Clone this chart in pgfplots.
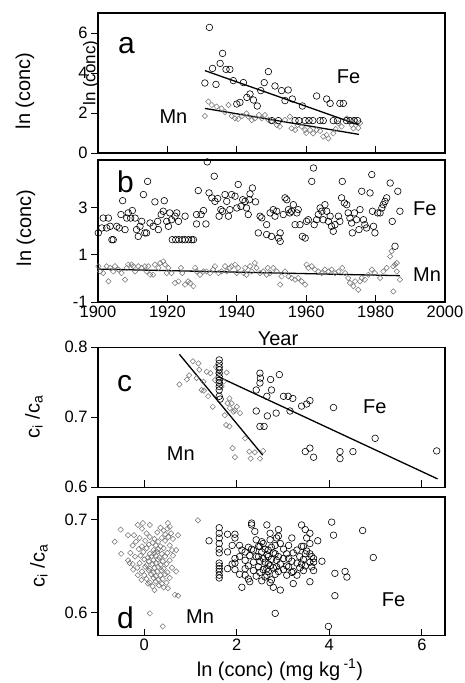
\documentclass[border=0pt]{standalone}
\usepackage{fontspec}
\setmainfont{Liberation Sans}
\usepackage{pgfplots}
\pgfplotsset{compat=1.18}

\pgfplotsset{
  panel/.style={
    scale only axis,
    width=347pt,
    anchor=south west,
    axis line style={line width=1.3pt},
    tick style={line width=1pt, black},
    major tick length=7pt,
    tick align=inside,
    ytick align=outside,
    xtick pos=left, ytick pos=left,
    tick label style={font=\fontsize{16.5}{16.5}\selectfont},
    /pgf/number format/assume math mode=true,
    /pgf/number format/1000 sep={},
    clip=false,
  },
  fe/.style={only marks, mark=o, mark size=3.3pt, black, mark options={line width=0.6pt}},
  mn/.style={only marks, mark=square, mark size=1.9pt, black!55, mark options={rotate=45, line width=0.5pt}},
  fit/.style={no marks, black, line width=1.3pt},
}

\begin{document}
\begin{tikzpicture}
\path[use as bounding box] (0,0) rectangle (465pt,-683pt);

% ---- panel a
\begin{axis}[panel, at={(98pt,-153pt)}, height=140pt,
  xmin=1900, xmax=2000, ymin=0, ymax=7,
  xtick={1920,1940,1960,1980}, xticklabels={}, ytick={0,2,4,6}]
\addplot[mn] coordinates {
(1930.8,1.85) (1931.8,2.57) (1932.8,2.40) (1934.2,2.32) (1935.6,2.23) (1936.6,2.05)
(1937.6,2.40) (1938.5,1.85) (1939.5,1.73) (1940.4,1.70) (1941.5,1.85) (1942.8,1.98)
(1943.3,1.82) (1944.3,1.65) (1945.2,1.73) (1946.4,1.90) (1947.2,1.73) (1948.1,1.90)
(1949.1,1.65) (1950.0,1.60) (1951.5,1.40) (1952.4,1.32) (1953.9,1.65) (1955.3,1.82)
(1955.8,1.23) (1956.8,1.15) (1957.5,1.40) (1958.7,1.32) (1959.7,1.15) (1960.0,1.00)
(1961.1,1.15) (1962.0,0.98) (1963.0,1.15) (1964.0,1.10) (1964.9,0.82) (1965.9,0.90)
(1966.4,0.73) (1967.8,0.98) (1968.5,1.20) (1969.3,1.48) (1970.2,1.32) (1971.7,1.73)
(1973.1,1.40) (1973.6,1.23) (1974.1,1.65) (1975.0,1.25) (1975.5,1.50)
};
\addplot[fe] coordinates {
(1930.8,3.50) (1932.1,6.28) (1933.0,4.23) (1934.0,3.43) (1935.2,4.48) (1935.9,4.98)
(1936.9,4.18) (1938.0,4.18) (1939.0,3.62) (1940.0,2.45) (1940.9,2.53) (1941.9,3.52)
(1942.9,2.78) (1943.8,2.95) (1944.8,2.65) (1945.9,2.35) (1946.9,3.12) (1947.9,3.52)
(1949.1,4.07) (1950.1,1.62) (1951.0,3.35) (1952.0,1.62) (1952.9,3.12) (1953.9,2.62)
(1954.8,3.15) (1956.0,2.70) (1956.8,1.62) (1957.9,1.62) (1958.9,2.35) (1959.7,1.62)
(1960.8,1.62) (1961.9,1.62) (1963.0,2.85) (1964.0,1.62) (1964.9,1.62) (1965.9,2.70)
(1966.9,2.48) (1967.8,1.62) (1969.0,1.62) (1969.7,2.48) (1970.7,2.48) (1971.6,1.62)
(1972.6,1.62) (1973.8,1.62) (1974.8,1.62)
};
\addplot[fit] coordinates {(1930.8,4.12) (1975.2,1.40)};
\addplot[fit] coordinates {(1930.8,2.23) (1975.2,0.93)};
\end{axis}

% ---- panel b
\begin{axis}[panel, at={(98pt,-302pt)}, height=142pt,
  xmin=1900, xmax=2000, ymin=-1, ymax=5.04,
  xtick={1900,1920,...,2000}, ytick={-1,1,3}]
\addplot[mn] coordinates {
(1900.1,0.52) (1900.6,0.30) (1901.5,0.23) (1902.5,0.52) (1903.0,-0.12) (1903.5,0.45)
(1904.4,0.30) (1904.9,0.52) (1905.9,0.38) (1906.8,0.23) (1907.8,-0.05) (1908.3,0.45)
(1908.7,0.59) (1909.7,0.59) (1910.2,0.52) (1910.7,0.30) (1911.6,0.52) (1912.6,0.45)
(1913.5,0.52) (1914.0,0.30) (1914.5,0.52) (1915.0,0.16) (1915.9,0.16) (1916.4,0.59)
(1917.4,0.45) (1917.9,0.66) (1918.8,0.73) (1919.3,0.59) (1919.8,0.23) (1920.3,0.45)
(1921.2,0.23) (1922.2,-0.19) (1923.2,-0.12) (1923.9,0.45) (1924.3,0.23) (1925.1,-0.26)
(1926.0,-0.12) (1926.5,-0.19) (1927.5,-0.33) (1928.0,0.45) (1928.4,0.30) (1929.4,0.16)
(1930.4,0.30) (1931.3,0.30) (1932.3,0.23) (1933.2,0.38) (1933.7,0.52) (1934.7,0.23)
(1935.6,0.30) (1936.6,0.52) (1937.1,0.30) (1938.0,0.45) (1938.5,0.52) (1939.5,0.59)
(1940.0,0.23) (1940.4,0.45) (1941.9,0.23) (1942.4,0.45) (1942.8,0.16) (1943.8,0.52)
(1944.3,0.30) (1945.2,0.66) (1945.7,0.45) (1946.7,0.23) (1947.6,0.30) (1948.6,0.16)
(1948.9,0.45) (1949.6,0.23) (1950.5,0.45) (1951.5,0.30) (1952.5,-0.26) (1952.9,0.09)
(1953.9,0.30) (1954.9,0.09) (1955.8,0.02) (1956.8,-0.05) (1957.7,0.02) (1958.7,-0.12)
(1959.7,-0.26) (1960.1,0.59) (1960.6,0.45) (1961.6,0.52) (1962.5,0.38) (1963.5,0.30)
(1964.5,0.23) (1965.4,0.38) (1966.4,0.30) (1967.3,0.38) (1968.3,0.23) (1969.3,0.30)
(1970.4,0.45) (1971.2,0.23) (1972.1,0.02) (1972.6,-0.19) (1973.6,-0.33) (1974.1,-0.12)
(1975.0,-0.48) (1975.5,-0.12) (1976.0,0.02) (1976.9,-0.05) (1977.9,0.16) (1978.9,0.38)
(1979.8,0.23) (1981.3,0.02) (1982.2,0.30) (1983.2,0.45) (1984.2,0.94) (1984.6,1.16)
(1985.1,0.52) (1985.6,0.59) (1986.1,0.30) (1985.1,-0.55) (1986.1,0.66) (1987.0,-0.05)
};
\addplot[fe] coordinates {
(1900.1,1.94) (1901.1,2.15) (1901.5,2.57) (1902.5,2.15) (1903.0,2.57) (1903.5,2.22)
(1904.0,1.65) (1904.4,1.65) (1905.4,2.22) (1906.1,2.15) (1906.6,2.72) (1907.1,3.31)
(1907.8,2.08) (1908.3,2.57) (1908.7,2.79) (1909.4,2.57) (1909.9,2.89) (1910.7,2.57)
(1911.1,2.08) (1911.6,1.79) (1912.1,2.22) (1912.6,2.43) (1913.1,3.57) (1913.5,1.94)
(1914.0,1.94) (1914.3,4.13) (1915.0,2.36) (1915.9,2.22) (1916.4,3.26) (1917.2,2.43)
(1917.4,2.08) (1918.2,2.72) (1918.8,2.86) (1919.1,3.31) (1919.8,2.43) (1920.3,2.22)
(1920.7,2.79) (1921.2,2.50) (1921.4,1.65) (1922.2,2.65) (1922.4,1.65) (1922.7,2.79)
(1923.2,2.43) (1923.3,1.65) (1924.3,1.65) (1925.1,1.65) (1925.1,2.65) (1926.1,1.65)
(1927.0,1.65) (1927.5,1.65) (1928.4,2.32) (1928.4,2.72) (1928.9,3.74) (1929.7,2.72)
(1930.4,2.89) (1931.1,2.32) (1931.5,4.96) (1932.0,3.64) (1932.8,3.43) (1933.5,4.35)
(1933.7,3.28) (1934.5,3.40) (1934.9,2.65) (1935.4,2.93) (1935.9,2.86) (1936.6,3.57)
(1937.1,3.28) (1937.6,2.65) (1938.0,2.93) (1938.5,3.57) (1939.5,3.50) (1940.0,3.00)
(1940.4,4.00) (1941.2,3.07) (1941.7,3.35) (1942.4,3.28) (1942.8,3.00) (1943.3,2.72)
(1943.6,3.35) (1943.8,3.60) (1944.5,3.85) (1945.4,3.26) (1946.2,1.94) (1946.7,2.65)
(1947.2,2.58) (1948.6,2.29) (1948.6,1.87) (1949.6,2.79) (1950.0,1.79) (1950.5,2.93)
(1951.0,2.65) (1951.5,2.86) (1952.0,1.72) (1952.5,1.94) (1952.5,1.58) (1953.4,2.72)
(1953.9,3.43) (1954.4,3.35) (1954.9,2.93) (1955.3,2.79) (1955.8,2.86) (1956.3,3.14)
(1956.8,2.29) (1957.3,2.79) (1957.7,2.93) (1958.2,2.29) (1958.9,1.79) (1959.7,1.72)
(1960.1,2.43) (1960.6,2.50) (1961.6,4.13) (1962.1,4.70) (1962.3,2.29) (1963.0,2.50)
(1963.5,2.72) (1964.0,3.00) (1964.5,2.86) (1964.9,2.50) (1965.4,3.14) (1965.9,2.86)
(1966.4,2.43) (1966.9,2.65) (1967.3,2.22) (1967.8,2.01) (1968.3,2.29) (1969.3,2.65)
(1969.7,2.43) (1970.4,4.13) (1970.2,3.43) (1971.0,3.21) (1971.7,3.14) (1972.1,2.79)
(1972.6,2.57) (1973.1,2.36) (1973.3,1.94) (1973.9,2.79) (1974.5,2.50) (1975.2,2.08)
(1975.5,2.93) (1976.0,3.71) (1976.5,2.50) (1976.9,2.29) (1977.4,2.15) (1978.4,3.64)
(1978.9,4.42) (1979.1,2.86) (1979.4,2.22) (1979.8,1.94) (1980.6,2.79) (1981.3,2.79)
(1981.8,3.00) (1982.2,3.14) (1982.7,3.28) (1983.2,3.43) (1984.2,4.06) (1984.8,2.43)
(1985.6,1.37) (1986.4,3.71) (1987.0,2.86)
};
\addplot[fit] coordinates {(1900,0.40) (1987,0.12)};
\end{axis}

% ---- panel c
\begin{axis}[panel, at={(98pt,-487.3pt)}, height=140pt,
  xmin=-1, xmax=6.5, ymin=0.6, ymax=0.8,
  xtick={0,2,4,6}, xticklabels={}, ytick={0.6,0.7,0.8},
  yticklabel style={/pgf/number format/fixed, /pgf/number format/precision=1}]
\addplot[mn] coordinates {
(0.76,0.747) (0.92,0.754) (0.97,0.760) (1.05,0.780) (1.13,0.756) (1.17,0.777)
(1.19,0.768) (1.24,0.739) (1.28,0.751) (1.29,0.738) (1.35,0.765) (1.38,0.730)
(1.43,0.763) (1.48,0.715) (1.53,0.753) (1.55,0.772) (1.60,0.763) (1.64,0.749)
(1.67,0.744) (1.72,0.751) (1.78,0.764) (1.74,0.703) (1.80,0.720) (1.84,0.727)
(1.85,0.713) (1.89,0.720) (1.93,0.708) (1.96,0.710) (2.00,0.715) (2.07,0.706)
(1.77,0.689) (1.84,0.687) (1.91,0.656) (1.96,0.643) (2.18,0.670) (2.27,0.651)
(2.30,0.641) (2.39,0.650) (2.50,0.641) (2.57,0.652)
};
\addplot[fe] coordinates {
(1.62,0.782) (1.62,0.777) (1.62,0.772) (1.62,0.768) (1.62,0.763) (1.62,0.758)
(1.62,0.753) (1.62,0.749) (1.62,0.744) (1.62,0.739) (1.62,0.730) (1.64,0.726)
(2.50,0.763) (2.51,0.756) (2.50,0.749) (2.42,0.739) (2.42,0.709) (2.50,0.687)
(2.59,0.687) (2.65,0.730) (2.66,0.702) (2.73,0.754) (2.75,0.739) (2.85,0.706)
(2.92,0.761) (3.01,0.730) (3.11,0.730) (3.15,0.709) (3.21,0.727) (3.40,0.716)
(3.51,0.719) (3.58,0.724) (3.48,0.651) (3.58,0.656) (3.66,0.643) (4.09,0.714)
(4.23,0.651) (4.23,0.641) (4.51,0.651) (4.99,0.670) (6.32,0.652)
};
\addplot[fit] coordinates {(1.60,0.758) (6.34,0.612)};
\addplot[fit] coordinates {(0.76,0.790) (2.56,0.646)};
\end{axis}

% ---- panel d
\begin{axis}[panel, at={(98pt,-635.7pt)}, height=138.7pt,
  xmin=-1, xmax=6.5, ymin=0.575, ymax=0.724,
  xtick={0,2,4,6}, ytick={0.6,0.7},
  yticklabel style={/pgf/number format/fixed, /pgf/number format/precision=1}]
\addplot[mn] coordinates {
(-0.51,0.689) (-0.64,0.676) (-0.50,0.663) (-0.35,0.683) (-0.22,0.683) (-0.14,0.694)
(-0.03,0.696) (0.12,0.694) (0.51,0.696) (0.55,0.692) (0.73,0.683) (0.69,0.667)
(-0.32,0.653) (-0.24,0.646) (-0.14,0.640) (-0.06,0.635) (0.08,0.631) (0.22,0.624)
(0.51,0.626) (0.69,0.644) (0.66,0.619) (0.73,0.618) (0.12,0.599) (0.40,0.585)
(1.16,0.699)
(-0.05,0.690) (0.35,0.691) (0.42,0.688) (0.50,0.690)
(0.05,0.685) (0.28,0.686) (0.45,0.684) (0.58,0.685)
(-0.10,0.680) (0.12,0.681) (0.22,0.679) (0.38,0.680) (0.52,0.681) (0.62,0.679)
(-0.18,0.676) (0.02,0.677) (0.18,0.675) (0.30,0.676) (0.45,0.677)
(-0.25,0.672) (-0.05,0.671) (0.10,0.673) (0.25,0.672) (0.35,0.671) (0.55,0.672)
(-0.12,0.668) (0.05,0.669) (0.20,0.667) (0.30,0.668) (0.42,0.669) (0.60,0.667)
(-0.30,0.664) (-0.02,0.665) (0.12,0.663) (0.22,0.664) (0.28,0.665) (0.38,0.663) (0.50,0.664)
(-0.20,0.660) (-0.08,0.661) (0.08,0.659) (0.15,0.660) (0.25,0.661) (0.33,0.659) (0.45,0.660) (0.62,0.661)
(-0.35,0.656) (0.00,0.657) (0.10,0.655) (0.20,0.656) (0.30,0.657) (0.40,0.655) (0.55,0.656)
(-0.25,0.652) (-0.10,0.653) (0.05,0.651) (0.18,0.652) (0.25,0.653) (0.35,0.651) (0.48,0.652)
(-0.15,0.648) (0.02,0.649) (0.12,0.647) (0.22,0.648) (0.30,0.649) (0.42,0.647) (0.60,0.648)
(-0.05,0.644) (0.10,0.645) (0.20,0.643) (0.28,0.644) (0.38,0.645) (0.50,0.643)
(0.00,0.640) (0.15,0.641) (0.25,0.639) (0.35,0.640) (0.45,0.641)
(0.05,0.636) (0.20,0.637) (0.30,0.635) (0.40,0.636) (0.55,0.637)
(0.12,0.632) (0.25,0.633) (0.38,0.631) (0.48,0.632)
(0.18,0.628) (0.32,0.629) (0.42,0.627)
};
\addplot[fe] coordinates {
(1.40,0.677)
(1.62,0.691) (1.62,0.685) (1.62,0.680) (1.62,0.674) (1.62,0.668) (1.62,0.664)
(1.62,0.653) (1.62,0.650) (1.62,0.647) (1.62,0.644) (1.62,0.640) (1.62,0.637)
(1.80,0.684) (1.80,0.665) (1.80,0.647) (1.90,0.672) (1.90,0.652)
(1.96,0.684) (1.96,0.680) (1.96,0.658) (1.96,0.653) (1.96,0.646)
(2.06,0.672) (2.06,0.660) (2.06,0.641) (2.11,0.627) (2.11,0.667)
(2.18,0.665) (2.18,0.656) (2.18,0.647) (2.18,0.640) (2.25,0.670) (2.25,0.650) (2.25,0.636)
(2.28,0.633) (2.28,0.661) (2.32,0.696) (2.32,0.694) (2.32,0.668)
(2.36,0.667) (2.36,0.654) (2.36,0.645) (2.39,0.687) (2.42,0.678) (2.42,0.660) (2.42,0.639)
(2.47,0.660) (2.47,0.649) (2.47,0.671) (2.50,0.671) (2.50,0.655) (2.50,0.643)
(2.54,0.665) (2.54,0.676) (2.54,0.634) (2.57,0.674) (2.57,0.658) (2.57,0.646)
(2.61,0.654) (2.61,0.668) (2.61,0.638) (2.65,0.694) (2.65,0.647) (2.65,0.640) (2.65,0.662)
(2.68,0.667) (2.68,0.660) (2.68,0.652) (2.68,0.644) (2.72,0.685) (2.72,0.678) (2.72,0.650) (2.72,0.632)
(2.75,0.635) (2.75,0.670) (2.75,0.657) (2.79,0.627) (2.79,0.664) (2.79,0.648)
(2.83,0.672) (2.83,0.663) (2.83,0.599) (2.83,0.641) (2.86,0.649) (2.86,0.680) (2.86,0.656)
(2.90,0.689) (2.90,0.682) (2.90,0.644) (2.90,0.660) (2.94,0.674) (2.94,0.624) (2.94,0.652)
(3.01,0.658) (3.01,0.668) (3.01,0.646) (3.08,0.663) (3.08,0.650) (3.08,0.640)
(3.12,0.649) (3.12,0.672) (3.12,0.658) (3.19,0.680) (3.19,0.655) (3.19,0.643)
(3.22,0.644) (3.22,0.631) (3.22,0.664) (3.30,0.653) (3.30,0.667) (3.30,0.640)
(3.36,0.660) (3.36,0.648) (3.40,0.694) (3.40,0.671) (3.40,0.652)
(3.44,0.671) (3.44,0.657) (3.44,0.645) (3.48,0.689) (3.48,0.663) (3.48,0.650)
(3.51,0.680) (3.51,0.666) (3.58,0.674) (3.58,0.663) (3.58,0.633) (3.58,0.654) (3.58,0.685)
(3.62,0.649) (3.62,0.660) (3.66,0.654) (3.66,0.645) (3.66,0.658) (3.75,0.677) (3.84,0.655)
(3.98,0.585) (4.05,0.697) (4.09,0.683) (4.12,0.642) (4.12,0.618) (4.34,0.644) (4.38,0.638)
(4.72,0.688) (4.95,0.659)
};
\end{axis}

% ---- labels
\node[rotate=90, font=\fontsize{20}{20}\selectfont] at (25pt,-91pt) {ln (conc)};
\node[rotate=90, font=\fontsize{17}{17}\selectfont] at (91pt,-73pt) {ln (conc)};
\node[rotate=90, font=\fontsize{20}{20}\selectfont] at (26pt,-228pt) {ln (conc)};
\node[rotate=90, font=\fontsize{20}{20}\selectfont] at (34pt,-417pt) {c\textsubscript{i} /c\textsubscript{a}};
\node[rotate=90, font=\fontsize{20}{20}\selectfont] at (39pt,-566pt) {c\textsubscript{i} /c\textsubscript{a}};
\node[anchor=base, font=\fontsize{20}{20}\selectfont] at (278pt,-345pt) {Year};
\node[anchor=base, font=\fontsize{20}{20}\selectfont] at (280pt,-676pt) {ln (conc) (mg kg\,\textsuperscript{-1})};

\node[anchor=base west, inner sep=0pt, font=\fontsize{30}{30}\selectfont] at (118pt,-53.3pt) {a};
\node[anchor=base west, inner sep=0pt, font=\fontsize{30}{30}\selectfont] at (117pt,-192.3pt) {b};
\node[anchor=base west, inner sep=0pt, font=\fontsize{30}{30}\selectfont] at (117pt,-391.7pt) {c};
\node[anchor=base west, inner sep=0pt, font=\fontsize{30}{30}\selectfont] at (117pt,-628.3pt) {d};

\node[anchor=base west, inner sep=0pt, font=\fontsize{20}{20}\selectfont] at (336.7pt,-83.3pt) {Fe};
\node[anchor=base west, inner sep=0pt, font=\fontsize{20}{20}\selectfont] at (159.3pt,-123.3pt) {Mn};
\node[anchor=base west, inner sep=0pt, font=\fontsize{20}{20}\selectfont] at (413pt,-215pt) {Fe};
\node[anchor=base west, inner sep=0pt, font=\fontsize{20}{20}\selectfont] at (413pt,-281.7pt) {Mn};
\node[anchor=base west, inner sep=0pt, font=\fontsize{20}{20}\selectfont] at (363pt,-413.3pt) {Fe};
\node[anchor=base west, inner sep=0pt, font=\fontsize{20}{20}\selectfont] at (166.7pt,-460pt) {Mn};
\node[anchor=base west, inner sep=0pt, font=\fontsize{20}{20}\selectfont] at (381.7pt,-606.7pt) {Fe};
\node[anchor=base west, inner sep=0pt, font=\fontsize{20}{20}\selectfont] at (186pt,-623.3pt) {Mn};
\end{tikzpicture}
\end{document}
